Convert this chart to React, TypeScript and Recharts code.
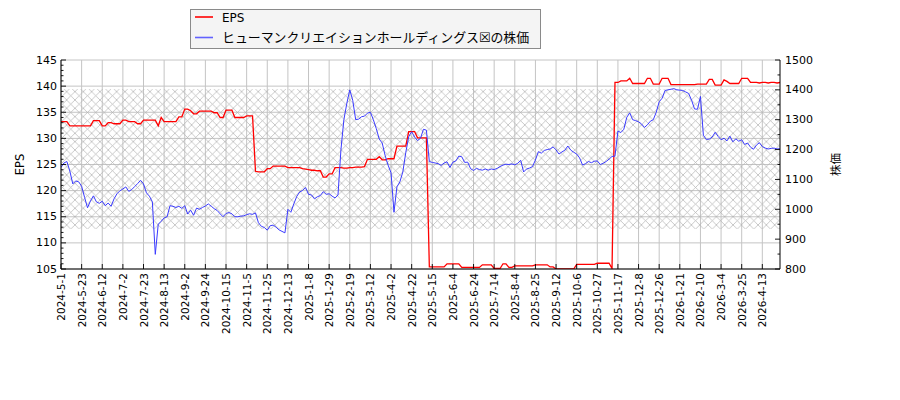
import React from 'react';
import { ComposedChart, Line, XAxis, YAxis, CartesianGrid, ReferenceArea } from 'recharts';

// Tick labels (one every 14 trading days)
const tickLabels = [
  '2024-5-1', '2024-5-23', '2024-6-12', '2024-7-2', '2024-7-23', '2024-8-13', '2024-9-2',
  '2024-9-24', '2024-10-15', '2024-11-5', '2024-11-25', '2024-12-13', '2025-1-8', '2025-1-29',
  '2025-2-19', '2025-3-12', '2025-4-2', '2025-4-22', '2025-5-15', '2025-6-4', '2025-6-24',
  '2025-7-14', '2025-8-4', '2025-8-25', '2025-9-12', '2025-10-6', '2025-10-27', '2025-11-17',
  '2025-12-8', '2025-12-26', '2026-1-21', '2026-2-10', '2026-3-4', '2026-3-25', '2026-4-13',
];

// EPS, sampled every 2 trading days
const epsValues = [
  133.2, 133.2, 133.2, 132.4, 132.4, 132.4, 132.4, 132.4, 132.4, 132.4,
  132.4, 133.4, 133.4, 133.4, 132.4, 132.4, 133.0, 133.0, 132.8, 132.8,
  132.8, 133.5, 133.5, 133.2, 133.2, 133.2, 132.8, 132.8, 133.5, 133.5,
  133.5, 133.5, 133.5, 132.4, 134.0, 133.2, 133.2, 133.2, 133.2, 133.2,
  134.1, 134.1, 135.6, 135.6, 135.3, 134.7, 134.7, 135.2, 135.2, 135.2,
  135.2, 135.2, 134.9, 134.9, 134.0, 134.0, 135.4, 135.4, 135.4, 134.0,
  134.0, 134.0, 134.0, 134.3, 134.3, 134.3, 123.7, 123.6, 123.6, 123.6,
  124.2, 124.2, 124.7, 124.7, 124.7, 124.7, 124.7, 124.4, 124.4, 124.4,
  124.4, 124.4, 124.2, 124.1, 124.0, 123.9, 123.9, 123.8, 123.8, 122.6,
  122.6, 123.2, 123.2, 124.4, 124.4, 124.4, 124.3, 124.3, 124.4, 124.4,
  124.5, 124.5, 124.5, 124.6, 126.0, 126.0, 126.0, 126.0, 126.5, 125.9,
  125.9, 126.1, 126.1, 126.1, 128.5, 128.5, 128.5, 128.5, 131.3, 131.3,
  131.3, 130.1, 130.1, 130.1, 130.1, 105.4, 105.4, 105.4, 105.4, 105.4,
  105.4, 106.0, 106.0, 106.0, 106.0, 106.0, 105.3, 105.3, 105.3, 105.3,
  105.3, 105.3, 105.3, 105.8, 105.8, 105.8, 105.8, 105.1, 105.1, 105.1,
  106.0, 106.0, 105.3, 105.3, 105.6, 105.6, 105.6, 105.6, 105.6, 105.6,
  105.6, 105.8, 105.8, 105.8, 105.8, 105.8, 105.4, 105.4, 105.0, 105.0,
  105.0, 105.0, 105.0, 105.0, 105.0, 105.9, 105.9, 105.9, 105.9, 105.9,
  105.9, 105.9, 106.1, 106.1, 106.1, 106.1, 106.1, 105.1, 140.7, 140.7,
  141.0, 141.0, 141.0, 141.5, 140.5, 140.5, 140.5, 140.5, 140.5, 141.5,
  141.5, 140.4, 140.4, 140.4, 141.5, 141.5, 141.5, 140.3, 140.3, 140.3,
  140.3, 140.3, 140.3, 140.3, 140.3, 140.3, 140.4, 140.4, 140.4, 140.4,
  141.3, 141.3, 140.2, 140.2, 140.2, 141.2, 140.9, 140.5, 140.5, 140.5,
  140.5, 141.5, 141.5, 141.5, 140.7, 140.7, 140.7, 140.6, 140.7, 140.7,
  140.6, 140.7, 140.7, 140.6, 140.7,
];

// Share price, sampled every 2 trading days
const priceValues = [
  1140, 1155, 1160, 1128, 1085, 1095, 1092, 1077, 1040, 1005,
  1028, 1045, 1025, 1020, 1027, 1012, 1021, 1010, 1035, 1052,
  1062, 1068, 1075, 1060, 1066, 1076, 1086, 1097, 1085, 1055,
  1044, 1025, 849, 950, 960, 971, 975, 1012, 1010, 1006,
  1010, 1003, 1012, 984, 997, 980, 1004, 1000, 1006, 1011,
  1018, 1010, 1002, 996, 985, 975, 986, 989, 985, 975,
  975, 977, 978, 982, 985, 983, 988, 955, 943, 939,
  930, 945, 947, 940, 931, 926, 921, 1000, 990, 1018,
  1043, 1058, 1063, 1073, 1050, 1048, 1035, 1042, 1046, 1059,
  1050, 1052, 1044, 1038, 1048, 1200, 1300, 1355, 1400, 1365,
  1300, 1302, 1310, 1312, 1322, 1325, 1300, 1270, 1235, 1222,
  1180, 1148, 1122, 990, 1075, 1092, 1125, 1190, 1243, 1260,
  1242, 1230, 1238, 1268, 1265, 1160, 1157, 1155, 1153, 1147,
  1155, 1159, 1140, 1158, 1162, 1178, 1176, 1157, 1158, 1136,
  1130, 1137, 1133, 1131, 1135, 1131, 1135, 1133, 1137, 1143,
  1148, 1151, 1150, 1152, 1149, 1154, 1164, 1125, 1135, 1138,
  1143, 1165, 1193, 1188, 1197, 1200, 1202, 1209, 1199, 1185,
  1192, 1198, 1212, 1198, 1191, 1185, 1172, 1148, 1153, 1160,
  1156, 1161, 1162, 1150, 1154, 1160, 1168, 1177, 1178, 1262,
  1257, 1268, 1308, 1323, 1300, 1297, 1293, 1286, 1274, 1283,
  1295, 1300, 1325, 1360, 1372, 1398, 1400, 1402, 1404, 1400,
  1399, 1398, 1393, 1388, 1365, 1336, 1335, 1378, 1248, 1234,
  1235, 1242, 1258, 1244, 1233, 1238, 1229, 1245, 1226, 1236,
  1228, 1233, 1217, 1222, 1208, 1201, 1215, 1223, 1210, 1205,
  1202, 1204, 1205, 1202, 1203,
];

const hatchRange = [934, 1403];
const epsTicks = [105, 110, 115, 120, 125, 130, 135, 140, 145];

const SAMPLE_STEP = 2;
const DAYS_PER_TICK = 14;
const LAST_INDEX = (epsValues.length - 1) * SAMPLE_STEP;

const data = epsValues.map((eps, k) => ({ idx: k * SAMPLE_STEP, eps, price: priceValues[k] }));
const xTicks = tickLabels.map((_, j) => j * DAYS_PER_TICK);
const leftTicks: number[] = [];
for (let v = 105; v <= 145; v += 1) leftTicks.push(v);
const rightTicks: number[] = [];
for (let v = 800; v <= 1500; v += 50) rightTicks.push(v);

const FONT = '"DejaVu Sans", "Noto Sans CJK JP", sans-serif';

const LeftTick = (props: any) => {
  const { x, y, payload } = props;
  const major = payload.value % 5 === 0;
  return (
    <g>
      <line x1={x} y1={y} x2={x + (major ? 5 : 2.5)} y2={y} stroke="#000" strokeWidth={0.9} />
      {major && (
        <text x={x - 4} y={y} textAnchor="end" dominantBaseline="central" fontSize={11} fill="#000" fontFamily={FONT}>
          {payload.value}
        </text>
      )}
    </g>
  );
};

const RightTick = (props: any) => {
  const { x, y, payload } = props;
  const major = payload.value % 100 === 0;
  return (
    <g>
      <line x1={x} y1={y} x2={x - (major ? 5 : 2.5)} y2={y} stroke="#000" strokeWidth={0.9} />
      {major && (
        <text x={x + 5} y={y} textAnchor="start" dominantBaseline="central" fontSize={11} fill="#000" fontFamily={FONT}>
          {payload.value}
        </text>
      )}
    </g>
  );
};

const BottomTick = (props: any) => {
  const { x, y, payload } = props;
  const label = tickLabels[Math.round(payload.value / DAYS_PER_TICK)];
  const ty = y + 4;
  return (
    <g>
      <line x1={x} y1={y} x2={x} y2={y - 5} stroke="#000" strokeWidth={0.9} />
      <text
        x={x}
        y={ty}
        transform={`rotate(-90 ${x} ${ty})`}
        textAnchor="end"
        dominantBaseline="central"
        fontSize={10.5}
        fill="#000"
        fontFamily={FONT}
      >
        {label}
      </text>
    </g>
  );
};

const AxisTitle = (props: any) => {
  const { viewBox, text, dx } = props;
  const cx = viewBox.x + dx;
  const cy = viewBox.y + viewBox.height / 2;
  return (
    <text
      x={cx}
      y={cy}
      transform={`rotate(-90 ${cx} ${cy})`}
      textAnchor="middle"
      dominantBaseline="central"
      fontSize={11.5}
      fill="#000"
      fontFamily={FONT}
    >
      {text}
    </text>
  );
};

export default function App() {
  return (
    <div style={{ position: 'absolute', left: 0, top: 0, width: 900, height: 400, background: '#fff', fontFamily: FONT }}>
      <ComposedChart width={900} height={400} data={data} margin={{ top: 60, right: 60, bottom: 51, left: 11 }}>
        <defs>
          <pattern id="xhatch" width={8.33} height={8.33} patternUnits="userSpaceOnUse">
            <path d="M0,0 L8.33,8.33 M8.33,0 L0,8.33" stroke="#b2b2b2" strokeWidth={0.7} fill="none" />
          </pattern>
        </defs>
        <CartesianGrid
          yAxisId="left"
          stroke="#c4c4c4"
          strokeWidth={1}
          horizontalValues={epsTicks}
          verticalValues={xTicks}
          syncWithTicks={false}
        />
        <ReferenceArea
          yAxisId="right"
          y1={hatchRange[0]}
          y2={hatchRange[1]}
          fill="url(#xhatch)"
          fillOpacity={1}
          stroke="none"
          ifOverflow="hidden"
        />
        <XAxis
          dataKey="idx"
          type="number"
          domain={[0, LAST_INDEX]}
          ticks={xTicks}
          interval={0}
          tickSize={0}
          tickMargin={0}
          tickLine={false}
          tick={<BottomTick />}
          axisLine={{ stroke: '#000', strokeWidth: 1 }}
          height={80}
          allowDataOverflow
        />
        <YAxis
          yAxisId="left"
          orientation="left"
          domain={[105, 145]}
          ticks={leftTicks}
          interval={0}
          tickSize={0}
          tickMargin={0}
          tickLine={false}
          tick={<LeftTick />}
          axisLine={{ stroke: '#000', strokeWidth: 1 }}
          width={50}
          allowDataOverflow
          label={<AxisTitle text="EPS" dx={9} />}
        />
        <YAxis
          yAxisId="right"
          orientation="right"
          domain={[800, 1500]}
          ticks={rightTicks}
          interval={0}
          tickSize={0}
          tickMargin={0}
          tickLine={false}
          tick={<RightTick />}
          axisLine={{ stroke: '#000', strokeWidth: 1 }}
          width={60}
          allowDataOverflow
          label={<AxisTitle text="株価" dx={56} />}
        />
        <Line
          yAxisId="left"
          type="linear"
          dataKey="eps"
          stroke="#ff0000"
          strokeWidth={1.3}
          dot={false}
          isAnimationActive={false}
        />
        <Line
          yAxisId="right"
          type="linear"
          dataKey="price"
          stroke="#3a3aff"
          strokeWidth={1}
          dot={false}
          isAnimationActive={false}
        />
      </ComposedChart>
      <div
        style={{
          position: 'absolute',
          left: 190,
          top: 9,
          width: 351,
          height: 40,
          boxSizing: 'border-box',
          border: '1px solid #8a8a8a',
          background: '#f4f4f4',
          fontFamily: FONT,
          color: '#000',
        }}
      >
        <svg width={24} height={36} style={{ position: 'absolute', left: 0, top: 0 }}>
          <line x1={4} y1={7} x2={22} y2={7} stroke="#ff0000" strokeWidth={1.6} />
          <line x1={4} y1={27.5} x2={22} y2={27.5} stroke="#6262ff" strokeWidth={1.6} />
        </svg>
        <div style={{ position: 'absolute', left: 31, top: 0, height: 16, lineHeight: '16px', fontSize: 12, whiteSpace: 'nowrap' }}>
          EPS
        </div>
        <div style={{ position: 'absolute', left: 31, top: 19, height: 18, lineHeight: '18px', fontSize: 12.9, whiteSpace: 'nowrap' }}>
          ヒューマンクリエイションホールディングス☒の株価
        </div>
      </div>
    </div>
  );
}
